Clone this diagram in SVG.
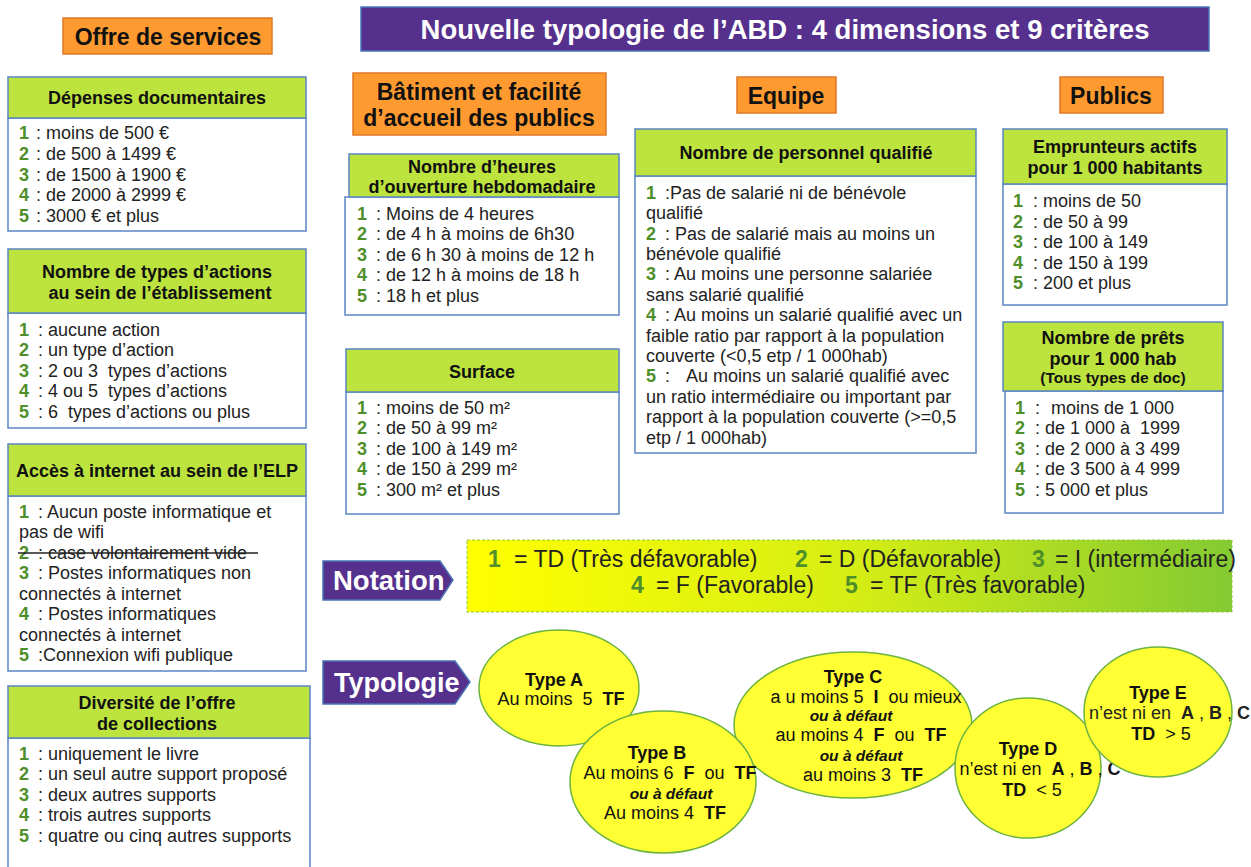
<svg xmlns="http://www.w3.org/2000/svg" width="1251" height="867" viewBox="0 0 1251 867">
<defs>
<style>
.hd{fill:#bde33f;stroke:#5b86c5;stroke-width:1.5}
.bd{fill:#fff;stroke:#5b86c5;stroke-width:1.5}
.or{fill:#ff9a30;stroke:#e07a26;stroke-width:1.5}
text{font-family:"Liberation Sans",Arial,sans-serif;white-space:pre}
.ht{font-weight:bold;font-size:18px;fill:#111;text-anchor:middle}
.sm{font-size:15.5px}
.t{font-size:18px;fill:#222}
.n{fill:#4f8f2a;font-weight:bold}
.ot{font-weight:bold;font-size:23px;text-anchor:middle;fill:#111}
.el{fill:#ffff33;stroke:#6cb33f;stroke-width:1.5}
.et{font-size:18px;text-anchor:middle;fill:#111}
.b{font-weight:bold}
.oa{font-weight:bold;font-style:italic;font-size:15.5px}
.pt{fill:#55308d;stroke:#4a74b5;stroke-width:1.5}
.wt{fill:#fff;font-weight:bold}
.nt{font-size:23px;fill:#222}
</style>
<linearGradient id="gr" x1="0" y1="0" x2="1" y2="0">
<stop offset="0" stop-color="#ffff00"/>
<stop offset="0.5" stop-color="#d6ee14"/>
<stop offset="1" stop-color="#84ca32"/>
</linearGradient>
</defs>
<rect width="1251" height="867" fill="#fff"/>

<g id="title">
<rect x="361" y="7" width="848" height="44" fill="#55308d" stroke="#4a74b5" stroke-width="1.5"/>
<text x="785" y="39" text-anchor="middle" class="wt" font-size="27.5">Nouvelle typologie de l’ABD : 4 dimensions et 9 critères</text>
</g>

<g id="dim-offre">
<rect class="or" x="63" y="18" width="209" height="36"/>
<text class="ot" x="168" y="45">Offre de services</text>
</g>
<g id="dim-batiment">
<rect class="or" x="353" y="73" width="253" height="62"/>
<text class="ot" x="479" y="100">Bâtiment et facilité</text>
<text class="ot" x="479" y="126">d’accueil des publics</text>
</g>
<g id="dim-equipe">
<rect class="or" x="737" y="77" width="99" height="36"/>
<text class="ot" x="786" y="104">Equipe</text>
</g>
<g id="dim-publics">
<rect class="or" x="1060" y="77" width="103" height="36"/>
<text class="ot" x="1111" y="104">Publics</text>
</g>

<g id="crit-depenses">
<rect class="bd" x="8" y="118" width="298" height="113"/>
<rect class="hd" x="8" y="77" width="298" height="41"/>
<text class="ht" x="157" y="104">Dépenses documentaires</text>
<text class="t" y="139"><tspan class="n" x="19">1</tspan><tspan x="36">: moins de 500 €</tspan></text>
<text class="t" y="160"><tspan class="n" x="19">2</tspan><tspan x="36">: de 500 à 1499 €</tspan></text>
<text class="t" y="181"><tspan class="n" x="19">3</tspan><tspan x="36">: de 1500 à 1900 €</tspan></text>
<text class="t" y="201"><tspan class="n" x="19">4</tspan><tspan x="36">: de 2000 à 2999 €</tspan></text>
<text class="t" y="222"><tspan class="n" x="19">5</tspan><tspan x="36">: 3000 € et plus</tspan></text>
</g>

<g id="crit-actions">
<rect class="bd" x="8" y="313" width="298" height="115"/>
<rect class="hd" x="8" y="249" width="298" height="64"/>
<text class="ht" x="157" y="278">Nombre de types d’actions</text>
<text class="ht" x="160" y="299">au sein de l’établissement</text>
<text class="t" y="336"><tspan class="n" x="19">1</tspan><tspan x="38">: aucune action</tspan></text>
<text class="t" y="356"><tspan class="n" x="19">2</tspan><tspan x="38">: un type d’action</tspan></text>
<text class="t" y="377" xml:space="preserve"><tspan class="n" x="19">3</tspan><tspan x="38">: 2 ou 3  types d’actions</tspan></text>
<text class="t" y="397" xml:space="preserve"><tspan class="n" x="19">4</tspan><tspan x="38">: 4 ou 5  types d’actions</tspan></text>
<text class="t" y="418" xml:space="preserve"><tspan class="n" x="19">5</tspan><tspan x="38">: 6  types d’actions ou plus</tspan></text>
</g>

<g id="crit-internet">
<rect class="bd" x="8" y="496" width="298" height="175"/>
<rect class="hd" x="8" y="444" width="298" height="52"/>
<text class="ht" x="157" y="477">Accès à internet au sein de l’ELP</text>
<text class="t" y="518"><tspan class="n" x="19">1</tspan><tspan x="38">: Aucun poste informatique et</tspan></text>
<text class="t" x="19" y="538">pas de wifi</text>
<text class="t" y="559"><tspan class="n" x="19">2</tspan><tspan x="38">: case volontairement vide</tspan></text>
<line x1="18" y1="553" x2="258" y2="553" stroke="#222" stroke-width="1.3"/>
<text class="t" y="579"><tspan class="n" x="19">3</tspan><tspan x="38">: Postes informatiques non</tspan></text>
<text class="t" x="19" y="600">connectés à internet</text>
<text class="t" y="620"><tspan class="n" x="19">4</tspan><tspan x="38">: Postes informatiques</tspan></text>
<text class="t" x="19" y="641">connectés à internet</text>
<text class="t" y="661"><tspan class="n" x="19">5</tspan><tspan x="38">:Connexion wifi publique</tspan></text>
</g>

<g id="crit-diversite">
<rect class="bd" x="8" y="738" width="302" height="135"/>
<rect class="hd" x="8" y="686" width="302" height="52"/>
<text class="ht" x="157" y="709">Diversité de l’offre</text>
<text class="ht" x="157" y="730">de collections</text>
<text class="t" y="760"><tspan class="n" x="19">1</tspan><tspan x="38">: uniquement le livre</tspan></text>
<text class="t" y="780"><tspan class="n" x="19">2</tspan><tspan x="38">: un seul autre support proposé</tspan></text>
<text class="t" y="801"><tspan class="n" x="19">3</tspan><tspan x="38">: deux autres supports</tspan></text>
<text class="t" y="821"><tspan class="n" x="19">4</tspan><tspan x="38">: trois autres supports</tspan></text>
<text class="t" y="842"><tspan class="n" x="19">5</tspan><tspan x="38">: quatre ou cinq autres supports</tspan></text>
</g>

<g id="crit-heures">
<rect class="bd" x="345" y="197" width="274" height="118"/>
<rect class="hd" x="349" y="154" width="270" height="43"/>
<text class="ht" x="482" y="173">Nombre d’heures</text>
<text class="ht" x="482" y="193">d’ouverture hebdomadaire</text>
<text class="t" y="220"><tspan class="n" x="357">1</tspan><tspan x="376">: Moins de 4 heures</tspan></text>
<text class="t" y="240"><tspan class="n" x="357">2</tspan><tspan x="376">: de 4 h à moins de 6h30</tspan></text>
<text class="t" y="261"><tspan class="n" x="357">3</tspan><tspan x="376">: de 6 h 30 à moins de 12 h</tspan></text>
<text class="t" y="281"><tspan class="n" x="357">4</tspan><tspan x="376">: de 12 h à moins de 18 h</tspan></text>
<text class="t" y="302"><tspan class="n" x="357">5</tspan><tspan x="376">: 18 h et plus</tspan></text>
</g>

<g id="crit-surface">
<rect class="bd" x="346" y="392" width="273" height="122"/>
<rect class="hd" x="346" y="349" width="273" height="43"/>
<text class="ht" x="482" y="378">Surface</text>
<text class="t" y="414"><tspan class="n" x="357">1</tspan><tspan x="376">: moins de 50 m²</tspan></text>
<text class="t" y="434"><tspan class="n" x="357">2</tspan><tspan x="376">: de 50 à 99 m²</tspan></text>
<text class="t" y="455"><tspan class="n" x="357">3</tspan><tspan x="376">: de 100 à 149 m²</tspan></text>
<text class="t" y="475"><tspan class="n" x="357">4</tspan><tspan x="376">: de 150 à 299 m²</tspan></text>
<text class="t" y="496"><tspan class="n" x="357">5</tspan><tspan x="376">: 300 m² et plus</tspan></text>
</g>

<g id="crit-personnel">
<rect class="bd" x="635" y="176" width="341" height="277"/>
<rect class="hd" x="635" y="129" width="341" height="47"/>
<text class="ht" x="806" y="159">Nombre de personnel qualifié</text>
<text class="t" y="199"><tspan class="n" x="646">1</tspan><tspan x="665">:Pas de salarié ni de bénévole</tspan></text>
<text class="t" x="646" y="219">qualifié</text>
<text class="t" y="240"><tspan class="n" x="646">2</tspan><tspan x="665">: Pas de salarié mais au moins un</tspan></text>
<text class="t" x="646" y="260">bénévole qualifié</text>
<text class="t" y="280"><tspan class="n" x="646">3</tspan><tspan x="665">: Au moins une personne salariée</tspan></text>
<text class="t" x="646" y="301">sans salarié qualifié</text>
<text class="t" y="321"><tspan class="n" x="646">4</tspan><tspan x="665">: Au moins un salarié qualifié avec un</tspan></text>
<text class="t" x="646" y="342">faible ratio par rapport à la population</text>
<text class="t" x="646" y="362">couverte (&lt;0,5 etp / 1 000hab)</text>
<text class="t" y="382"><tspan class="n" x="646">5</tspan><tspan x="665">:</tspan><tspan x="686">Au moins un salarié qualifié avec</tspan></text>
<text class="t" x="646" y="403">un ratio intermédiaire ou important par</text>
<text class="t" x="646" y="423">rapport à la population couverte (&gt;=0,5</text>
<text class="t" x="646" y="444">etp / 1 000hab)</text>
</g>

<g id="crit-emprunteurs">
<rect class="bd" x="1003" y="184" width="224" height="121"/>
<rect class="hd" x="1003" y="129" width="224" height="55"/>
<text class="ht" x="1115" y="153">Emprunteurs actifs</text>
<text class="ht" x="1115" y="174">pour 1 000 habitants</text>
<text class="t" y="207"><tspan class="n" x="1013">1</tspan><tspan x="1033">: moins de 50</tspan></text>
<text class="t" y="228"><tspan class="n" x="1013">2</tspan><tspan x="1033">: de 50 à 99</tspan></text>
<text class="t" y="248"><tspan class="n" x="1013">3</tspan><tspan x="1033">: de 100 à 149</tspan></text>
<text class="t" y="269"><tspan class="n" x="1013">4</tspan><tspan x="1033">: de 150 à 199</tspan></text>
<text class="t" y="289"><tspan class="n" x="1013">5</tspan><tspan x="1033">: 200 et plus</tspan></text>
</g>

<g id="crit-prets">
<rect class="bd" x="1005" y="391" width="218" height="122"/>
<rect class="hd" x="1003" y="322" width="220" height="69"/>
<text class="ht" x="1113" y="344">Nombre de prêts</text>
<text class="ht" x="1113" y="365">pour 1 000 hab</text>
<text class="ht sm" x="1113" y="383">(Tous types de doc)</text>
<text class="t" y="414"><tspan class="n" x="1015">1</tspan><tspan x="1035">:</tspan><tspan x="1051">moins de 1 000</tspan></text>
<text class="t" y="434" xml:space="preserve"><tspan class="n" x="1015">2</tspan><tspan x="1035">: de 1 000 à  1999</tspan></text>
<text class="t" y="455"><tspan class="n" x="1015">3</tspan><tspan x="1035">: de 2 000 à 3 499</tspan></text>
<text class="t" y="475"><tspan class="n" x="1015">4</tspan><tspan x="1035">: de 3 500 à 4 999</tspan></text>
<text class="t" y="496"><tspan class="n" x="1015">5</tspan><tspan x="1035">: 5 000 et plus</tspan></text>
</g>

<g id="notation">
<polygon class="pt" points="323,561 440,561 453,580 440,600 323,600"/>
<text class="wt" x="333" y="590" font-size="27.5">Notation</text>
<rect x="467" y="540" width="765" height="72" fill="url(#gr)" stroke="#8cc63f" stroke-width="1" stroke-dasharray="3,2"/>
<text class="nt" y="567"><tspan class="n" x="488">1</tspan><tspan x="514">= TD (Très défavorable)</tspan><tspan class="n" x="795">2</tspan><tspan x="819">= D (Défavorable)</tspan><tspan class="n" x="1032">3</tspan><tspan x="1055">= I (intermédiaire)</tspan></text>
<text class="nt" y="593"><tspan class="n" x="631">4</tspan><tspan x="656">= F (Favorable)</tspan><tspan class="n" x="845">5</tspan><tspan x="870">= TF (Très favorable)</tspan></text>
</g>

<g id="typologie">
<polygon class="pt" points="323,661 455,661 470,682 455,704 323,704"/>
<text class="wt" x="334" y="692" font-size="27">Typologie</text>
</g>

<g id="type-a">
<ellipse class="el" cx="559" cy="688" rx="80" ry="58"/>
<text class="et" x="554" y="686"><tspan class="b">Type A</tspan></text>
<text class="et" x="561" y="705" xml:space="preserve">Au moins  5  <tspan class="b">TF</tspan></text>
</g>
<g id="type-c">
<ellipse class="el" cx="853" cy="725" rx="119" ry="73"/>
<text class="et" x="853" y="683"><tspan class="b">Type C</tspan></text>
<text class="et" x="866" y="703" xml:space="preserve">a u moins 5  <tspan class="b">I</tspan>  ou mieux</text>
<text class="et oa" x="851" y="721">ou à défaut</text>
<text class="et" x="861" y="741" xml:space="preserve">au moins 4  <tspan class="b">F</tspan>  ou  <tspan class="b">TF</tspan></text>
<text class="et oa" x="861" y="761">ou à défaut</text>
<text class="et" x="863" y="781" xml:space="preserve">au moins 3  <tspan class="b">TF</tspan></text>
</g>
<g id="type-b">
<ellipse class="el" cx="663" cy="782" rx="93" ry="71"/>
<text class="et" x="657" y="759"><tspan class="b">Type B</tspan></text>
<text class="et" x="670" y="779" xml:space="preserve">Au moins 6  <tspan class="b">F</tspan>  ou  <tspan class="b">TF</tspan></text>
<text class="et oa" x="671" y="799">ou à défaut</text>
<text class="et" x="665" y="819" xml:space="preserve">Au moins 4  <tspan class="b">TF</tspan></text>
</g>
<g id="type-d">
<ellipse class="el" cx="1028" cy="768" rx="73" ry="70"/>
<text class="et" x="1028" y="755"><tspan class="b">Type D</tspan></text>
<text class="et" x="1040" y="775" xml:space="preserve">n’est ni en  <tspan class="b">A</tspan> , <tspan class="b">B</tspan> , <tspan class="b">C</tspan></text>
<text class="et" x="1032" y="796" xml:space="preserve"><tspan class="b">TD</tspan>  &lt; 5</text>
</g>
<g id="type-e">
<ellipse class="el" cx="1158" cy="712" rx="74" ry="65"/>
<text class="et" x="1158" y="699"><tspan class="b">Type E</tspan></text>
<text class="t" x="1089" y="719" fill="#111" xml:space="preserve">n’est ni en  <tspan class="b">A</tspan> , <tspan class="b">B</tspan> , <tspan class="b">C</tspan></text>
<text class="et" x="1161" y="740" xml:space="preserve"><tspan class="b">TD</tspan>  &gt; 5</text>
</g>
<g id="connectors"/>
</svg>
